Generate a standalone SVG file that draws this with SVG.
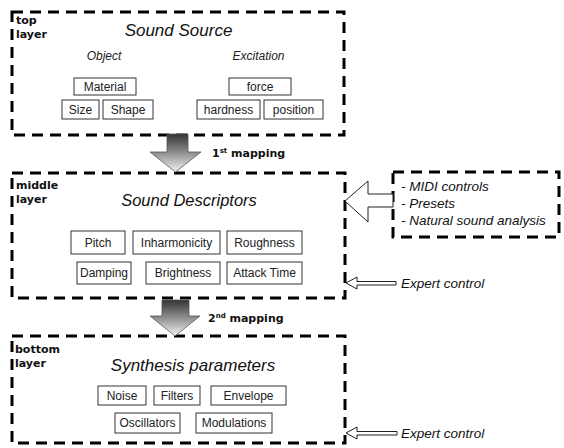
<svg xmlns="http://www.w3.org/2000/svg" width="564" height="448" viewBox="0 0 564 448">
<defs>
<linearGradient id="ga" x1="0" y1="0" x2="0" y2="1">
<stop offset="0" stop-color="#333"/>
<stop offset="0.55" stop-color="#9a9a9a"/>
<stop offset="1" stop-color="#f4f4f4"/>
</linearGradient>
</defs>
<style>
.layer{fill:none;stroke:#000;stroke-width:3;stroke-dasharray:11 7}
.box{fill:#fff;stroke:#333;stroke-width:1}
.lbl{font-family:"Liberation Sans",Arial,sans-serif;font-size:12px;fill:#222;text-anchor:middle}
.title{font-family:"Liberation Sans",Arial,sans-serif;font-size:17px;font-style:italic;fill:#111;text-anchor:middle}
.sub{font-family:"Liberation Sans",Arial,sans-serif;font-size:12px;font-style:italic;fill:#222;text-anchor:middle}
.tag{font-family:"DejaVu Sans",Verdana,sans-serif;font-size:11px;font-weight:bold;fill:#111}
.note{font-family:"Liberation Sans",Arial,sans-serif;font-size:13.5px;font-style:italic;fill:#111}
.big{fill:url(#ga);stroke:#555;stroke-width:0.8}
.out{fill:#fff;stroke:#222;stroke-width:1}
</style>
<rect width="564" height="448" fill="#fff"/>

<g id="top-layer">
<rect class="layer" x="12" y="12" width="332" height="123"/>
<text class="tag" x="16" y="24">top</text>
<text class="tag" x="16" y="38">layer</text>
<text class="title" x="178.5" y="36">Sound Source</text>
<text class="sub" x="104" y="60">Object</text>
<text class="sub" x="258.5" y="60">Excitation</text>
</g>
<g id="material"><rect class="box" x="74" y="78" width="62" height="17"/><text class="lbl" x="105" y="91">Material</text></g>
<g id="size"><rect class="box" x="62" y="100" width="37" height="19"/><text class="lbl" x="80.5" y="114">Size</text></g>
<g id="shape"><rect class="box" x="103" y="100" width="50" height="19"/><text class="lbl" x="128" y="114">Shape</text></g>
<g id="force"><rect class="box" x="229" y="78" width="62" height="17"/><text class="lbl" x="260" y="91">force</text></g>
<g id="hardness"><rect class="box" x="197" y="100" width="63" height="19"/><text class="lbl" x="228.5" y="114">hardness</text></g>
<g id="position"><rect class="box" x="264" y="100" width="59" height="19"/><text class="lbl" x="293.5" y="114">position</text></g>

<g id="middle-layer">
<rect class="layer" x="12" y="173" width="333" height="125"/>
<text class="tag" x="16" y="189">middle</text>
<text class="tag" x="16" y="203">layer</text>
<text class="title" x="189" y="206" style="font-size:16.5px">Sound Descriptors</text>
</g>
<g id="pitch"><rect class="box" x="71" y="231" width="54" height="23"/><text class="lbl" x="98" y="247">Pitch</text></g>
<g id="inharmonicity"><rect class="box" x="133" y="231" width="87" height="23"/><text class="lbl" x="176.5" y="247">Inharmonicity</text></g>
<g id="roughness"><rect class="box" x="227" y="231" width="75" height="23"/><text class="lbl" x="264.5" y="247">Roughness</text></g>
<g id="damping"><rect class="box" x="77" y="262" width="54" height="22"/><text class="lbl" x="104" y="277">Damping</text></g>
<g id="brightness"><rect class="box" x="146" y="262" width="74" height="22"/><text class="lbl" x="183" y="277">Brightness</text></g>
<g id="attack-time"><rect class="box" x="227" y="262" width="75" height="22"/><text class="lbl" x="264.5" y="277">Attack Time</text></g>

<g id="controls">
<rect class="layer" x="393" y="172" width="166" height="65"/>
<text class="note" x="401" y="191">- MIDI controls</text>
<text class="note" x="401" y="208">- Presets</text>
<text class="note" x="401" y="225">- Natural sound analysis</text>
</g>

<g id="bottom-layer">
<rect class="layer" x="12" y="336" width="333" height="107"/>
<text class="tag" x="15" y="353">bottom</text>
<text class="tag" x="15" y="367">layer</text>
<text class="title" x="193" y="371">Synthesis parameters</text>
</g>
<g id="noise"><rect class="box" x="98" y="386" width="48" height="19"/><text class="lbl" x="122" y="400">Noise</text></g>
<g id="filters"><rect class="box" x="154" y="386" width="46" height="19"/><text class="lbl" x="177" y="400">Filters</text></g>
<g id="envelope"><rect class="box" x="211" y="386" width="75" height="19"/><text class="lbl" x="248.5" y="400">Envelope</text></g>
<g id="oscillators"><rect class="box" x="115" y="413" width="65" height="20"/><text class="lbl" x="147.5" y="427">Oscillators</text></g>
<g id="modulations"><rect class="box" x="196" y="413" width="76" height="20"/><text class="lbl" x="234" y="427">Modulations</text></g>

<g id="connectors">
<polygon class="big" points="167,134 188,134 188,152 201,152 175.5,172 150,152 167,152"/>
<text class="tag" x="212" y="157">1<tspan font-size="7" dy="-4">st</tspan><tspan dy="4"> mapping</tspan></text>
<polygon class="big" points="162,300 189,300 189,316 200,316 175,336 150,316 162,316"/>
<text class="tag" x="208" y="322">2<tspan font-size="7" dy="-4">nd</tspan><tspan dy="4"> mapping</tspan></text>
<polygon class="out" points="393,194 368,194 368,181 345,201 368,222 368,207 393,207"/>
<polygon class="out" points="396,281.5 357,281.5 357,277 346,283 357,289 357,285 396,285"/>
<text class="note" x="401" y="288">Expert control</text>
<polygon class="out" points="397,431.5 357,431.5 357,427 346,433 357,439 357,435 397,435"/>
<text class="note" x="401" y="438">Expert control</text>
</g>
</svg>
